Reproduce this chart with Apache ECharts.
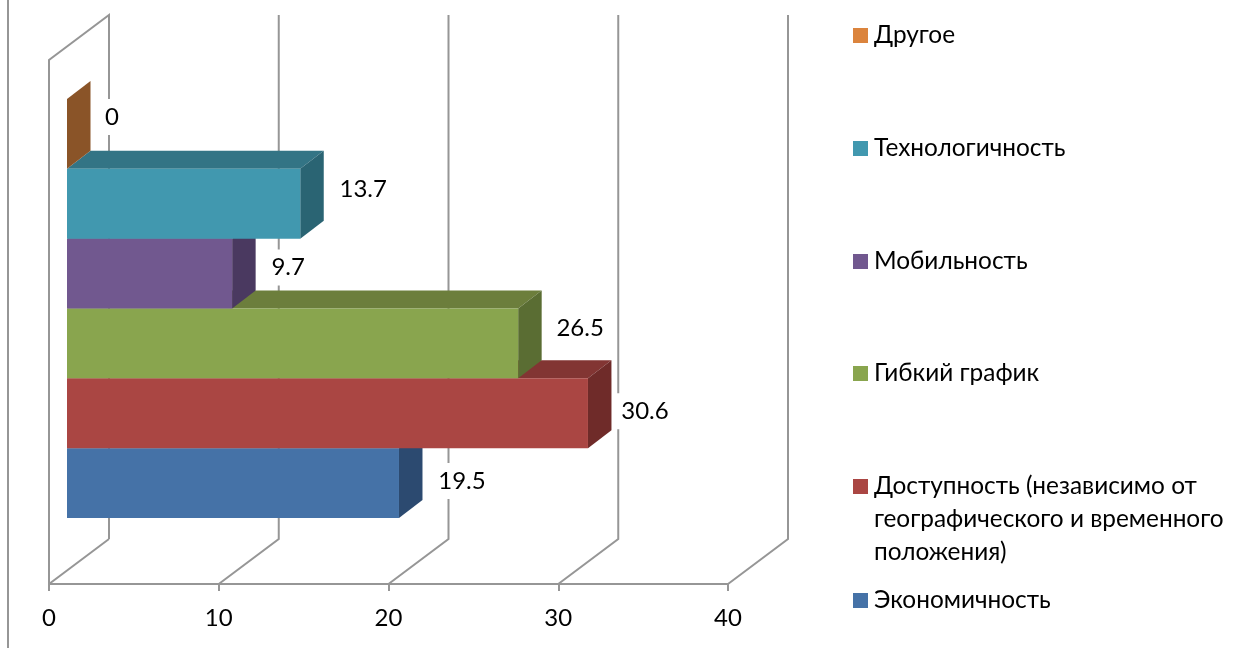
<!DOCTYPE html>
<html>
<head>
    <meta charset="utf-8">
    <style>
        html, body{
            width: 100%;
            height: 100%;
            margin: 0;
            padding: 0;
            background: #fff;
        }
        #chart{
            width: 1245px;
            height: 648px;
        }
    </style>
</head>
<body>
    <div id="chart"></div>
    <script src="https://cdn.jsdelivr.net/npm/echarts@6/dist/echarts.min.js"></script>
    <script>
        // bottom row first
        var categories = ["Экономичность", "Доступность (независимо от географического и временного положения)", "Гибкий график", "Мобильность", "Технологичность", "Другое"];
        var values = [19.5, 30.6, 26.5, 9.7, 13.7, 0];
        var xTicks = [0, 10, 20, 30, 40];

        var frontColors = ["#4572a7", "#aa4643", "#89a54e", "#71588f", "#4198af", "#db843d"];
        var sideColors = ["#2c4a70", "#6f2b29", "#5a6d33", "#4a3960", "#2a6473", "#8a5428"];
        var topColors = ["#345785", "#823533", "#6c7e3c", "#574370", "#337485", "#a86530"];
        // label shift from the bar end, the labels were hand placed in the original
        var labelDx = [63, 57, 62, 56, 63, 45];
        var labelDy = [-2, -2, -15, -6, -14, -17];
        var legendTops = [584, 404, 357, 245, 132, 19];

        var FONT = "Lato, 'Noto Sans', sans-serif";
        var FONT_SIZE = 24;
        var GRAY = "#969696";

        function renderWall(params, api){
            var v = api.value(0);
            var a = api.coord([v, 0]);
            var b = api.coord([v, 1]);
            var pts = [a, [a[0] + 60, a[1] - 45], [b[0] + 60, b[1] - 45]];
            if( v === 0 ){
                pts = [[a[0] + 60, a[1] - 45], a, b, [b[0] + 60, b[1] - 45], [a[0] + 60, a[1] - 45]];
            }
            return {
                type: "polyline",
                shape: { points: pts },
                style: { stroke: GRAY, lineWidth: 2, fill: null }
            };
        }

        function makeRenderBar(i){
            return function(params, api){
                var end = api.coord([api.value(0), api.value(1)]);
                var start = api.coord([0, api.value(1)]);
                var h = api.size([0, 1])[1];
                var dx = 23.5, dy = 18;
                var x0 = start[0], x1 = end[0], y0 = end[1] - h / 2, y1 = end[1] + h / 2;
                return {
                    type: "group",
                    children: [{
                        type: "polygon",
                        shape: { points: [[x0, y0], [x1, y0], [x1 + dx, y0 - dy], [x0 + dx, y0 - dy]] },
                        style: { fill: topColors[i] }
                    }, {
                        type: "polygon",
                        shape: { points: [[x1, y0], [x1 + dx, y0 - dy], [x1 + dx, y1 - dy], [x1, y1]] },
                        style: { fill: sideColors[i] }
                    }, {
                        type: "rect",
                        shape: { x: x0, y: y0, width: x1 - x0, height: h },
                        style: { fill: frontColors[i] }
                    }, {
                        type: "text",
                        x: x1 + labelDx[i],
                        y: end[1] + labelDy[i],
                        style: {
                            text: String(api.value(0)),
                            font: FONT_SIZE + "px " + FONT,
                            fill: "#000",
                            align: "center",
                            verticalAlign: "middle",
                            backgroundColor: "#fff",
                            padding: [6, 8]
                        }
                    }]
                };
            };
        }

        var series = [{
            type: "custom",
            name: "wall",
            xAxisIndex: 0,
            yAxisIndex: 0,
            clip: false,
            silent: true,
            renderItem: renderWall,
            encode: { x: 0 },
            data: xTicks.map(function(t){ return [t]; })
        }];
        var legends = [];
        categories.forEach(function(name, i){
            series.push({
                type: "custom",
                name: name,
                xAxisIndex: 1,
                yAxisIndex: 1,
                clip: false,
                itemStyle: { color: frontColors[i] },
                renderItem: makeRenderBar(i),
                encode: { x: 0, y: 1 },
                data: [[values[i], name]]
            });
            legends.push({
                data: [name],
                left: 853,
                top: legendTops[i],
                orient: "vertical",
                selectedMode: false,
                icon: "rect",
                itemWidth: 15,
                itemHeight: 15,
                itemGap: 0,
                padding: 0,
                formatter: function(n){
                    // two empty lines keep the square next to the first line
                    if( n.indexOf("Доступность") === 0 ){
                        return "\n\nДоступность (независимо от\nгеографического и временного\nположения)";
                    }
                    return n;
                },
                textStyle: {
                    color: "#000",
                    fontFamily: FONT,
                    fontSize: 24.4,
                    lineHeight: 33,
                    padding: [0, 0, 0, 1]
                }
            });
        });

        var chart = echarts.init(document.getElementById("chart"));
        chart.setOption({
            animation: false,
            backgroundColor: "#fff",
            graphic: [{
                type: "line",
                shape: { x1: 8, y1: 0, x2: 8, y2: 648 },
                style: { stroke: GRAY, lineWidth: 2 }
            }],
            legend: legends,
            grid: [
                { left: 49, width: 679, top: 60, height: 524 },
                { left: 67, width: 681, top: 99, height: 419 }
            ],
            xAxis: [{
                gridIndex: 0,
                type: "value",
                min: 0,
                max: 40,
                interval: 10,
                splitLine: { show: false },
                axisLine: { show: true, lineStyle: { color: GRAY, width: 2 } },
                axisTick: { show: true, length: 7, lineStyle: { color: GRAY, width: 2 } },
                axisLabel: {
                    show: true,
                    margin: 22,
                    color: "#000",
                    fontFamily: FONT,
                    fontSize: FONT_SIZE,
                    formatter: function(v){ return xTicks.indexOf(v) >= 0 ? String(v) : ""; }
                }
            }, {
                gridIndex: 1,
                type: "value",
                min: 0,
                max: 40,
                show: false
            }],
            yAxis: [{
                gridIndex: 0,
                type: "value",
                min: 0,
                max: 1,
                show: false
            }, {
                gridIndex: 1,
                type: "category",
                data: categories,
                show: false
            }],
            series: series
        });
    </script>
</body>
</html>
